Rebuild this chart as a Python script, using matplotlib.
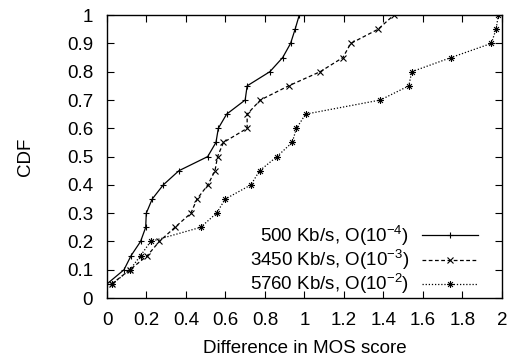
import matplotlib
matplotlib.use('Agg')
import matplotlib.pyplot as plt
from matplotlib.path import Path

plt.rcParams['font.family'] = ['Liberation Sans', 'DejaVu Sans']
plt.rcParams['mathtext.default'] = 'regular'

cdf_levels = [0.05, 0.1, 0.15, 0.2, 0.25, 0.3, 0.35, 0.4, 0.45, 0.5,
              0.55, 0.6, 0.65, 0.7, 0.75, 0.8, 0.85, 0.9, 0.95, 1.0]

diff_500 = [0.0, 0.086, 0.122, 0.17, 0.196, 0.199, 0.229, 0.285, 0.364, 0.51,
            0.552, 0.564, 0.606, 0.70, 0.71, 0.825, 0.89, 0.93, 0.953, 0.974]
diff_3450 = [0.024, 0.116, 0.204, 0.265, 0.344, 0.425, 0.456, 0.511, 0.547, 0.56,
             0.59, 0.71, 0.71, 0.777, 0.92, 1.08, 1.195, 1.235, 1.373, 1.453]
diff_5760 = [0.027, 0.116, 0.17, 0.221, 0.474, 0.555, 0.599, 0.729, 0.773, 0.861,
             0.938, 0.96, 1.006, 1.385, 1.529, 1.544, 1.743, 1.947, 1.971, 1.983]

labels = [r'500 Kb/s, O(10$^{-4}$)', r'3450 Kb/s, O(10$^{-3}$)', r'5760 Kb/s, O(10$^{-2}$)']

x_ticks = [0, 0.2, 0.4, 0.6, 0.8, 1, 1.2, 1.4, 1.6, 1.8, 2]
x_tick_labels = ['0', '0.2', '0.4', '0.6', '0.8', '1', '1.2', '1.4', '1.6', '1.8', '2']
y_ticks = [0, 0.1, 0.2, 0.3, 0.4, 0.5, 0.6, 0.7, 0.8, 0.9, 1]
y_tick_labels = ['0', '0.1', '0.2', '0.3', '0.4', '0.5', '0.6', '0.7', '0.8', '0.9', '1']

# gnuplot style asterisk: plus and cross together
star = Path([(-1, 0), (1, 0), (0, -1), (0, 1), (-0.7, -0.7), (0.7, 0.7), (-0.7, 0.7), (0.7, -0.7)],
            [Path.MOVETO, Path.LINETO] * 4)

fig = plt.figure(figsize=(5.12, 3.6), dpi=100)
ax = fig.add_axes([0.209, 0.172, 0.771, 0.786])

ax.plot(diff_500, cdf_levels, color='black', lw=0.9, ls='-', marker='+', ms=5, mew=0.8, label=labels[0])
ax.plot(diff_3450, cdf_levels, color='black', lw=0.9, ls=(0, (3, 2)), marker='x', ms=4, mew=0.8, label=labels[1])
ax.plot(diff_5760, cdf_levels, color='black', lw=0.9, ls=(0, (1, 1.5)), marker=star, ms=5, mew=0.8, label=labels[2])

ax.set_xlim(0, 2)
ax.set_ylim(0, 1)
ax.set_xticks(x_ticks)
ax.set_xticklabels(x_tick_labels)
ax.set_yticks(y_ticks)
ax.set_yticklabels(y_tick_labels)
ax.tick_params(direction='in', top=True, right=True, length=5, width=0.8, labelsize=13.5)
ax.tick_params(axis='y', pad=10)
ax.tick_params(axis='x', pad=10)
for s in ax.spines.values():
    s.set_linewidth(1.0)

ax.set_xlabel('Difference in MOS score', fontsize=13.5, labelpad=8)
ax.set_ylabel('CDF', fontsize=13.5, labelpad=24)

ax.legend(loc='lower right', bbox_to_anchor=(0.945, 0.0), frameon=False, markerfirst=False,
          fontsize=13.5, handlelength=3.0, handletextpad=0.7, labelspacing=0.0,
          borderaxespad=0.05, borderpad=0.05)

fig.savefig('out.png', dpi=100)
